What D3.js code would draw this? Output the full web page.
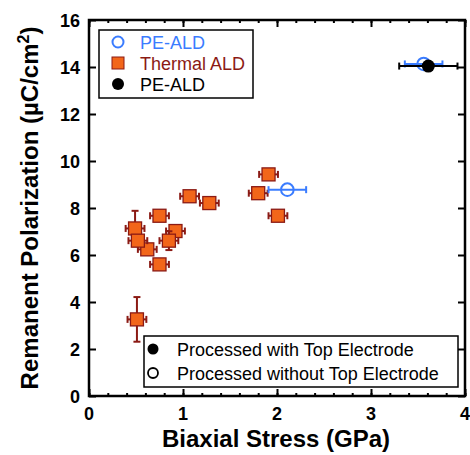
<!DOCTYPE html>
<html><head><meta charset="utf-8">
<script src="https://cdn.jsdelivr.net/npm/d3@7"></script>
<style>body{margin:0;background:#fff}svg{display:block}</style>
</head><body>
<script>
// ---- data ----
const thermalX    = [0.51, 0.62, 0.49, 0.52, 0.75, 0.75, 0.92, 0.85, 1.07, 1.28, 1.80, 1.91, 2.01];
const thermalY    = [3.26, 6.24, 7.13, 6.61, 5.60, 7.67, 7.02, 6.61, 8.50, 8.21, 8.63, 9.43, 7.67];
const thermalXErr = [0.10, 0.10, 0.10, 0.10, 0.10, 0.10, 0.10, 0.10, 0.10, 0.10, 0.10, 0.10, 0.10];
const thermalYErr = [0.95, 0, 0.75, 0, 0, 0, 0, 0.40, 0, 0, 0, 0, 0];
const peOpenX     = [2.11, 3.56];
const peOpenY     = [8.78, 14.13];
const peOpenXErr  = [0.20, 0.20];
const peFilledX   = [3.61];
const peFilledY   = [14.04];
const peFilledXErr= [0.31];
const xTicks = [0, 1, 2, 3, 4];
const yTicks = [0, 2, 4, 6, 8, 10, 12, 14, 16];
const legend1 = ["PE-ALD", "Thermal ALD", "PE-ALD"];
const legend2 = ["Processed with Top Electrode", "Processed without Top Electrode"];

const W = 470, H = 455;
const FONT = "'Liberation Sans', Arial, sans-serif";
const ORANGE = "#f2661a", DARKRED = "#8b1a14", BLUE = "#3a7cff";
const svg = d3.select("body").append("svg").attr("width", W).attr("height", H)
  .style("font-family", FONT);

const x = d3.scaleLinear().domain([0, 4]).range([89, 465]);
const y = d3.scaleLinear().domain([0, 16]).range([396, 20]);

// axes (inward ticks)
const minorX = d3.range(0, 4.001, 0.2);
svg.append("g").attr("transform", `translate(0,${y(0)})`)
  .call(d3.axisTop(x).tickValues(minorX).tickSize(3).tickFormat(""))
  .call(g => g.select(".domain").remove());
svg.append("g").attr("transform", `translate(0,${y(0)})`)
  .call(d3.axisTop(x).tickValues(xTicks).tickSize(7).tickFormat(""))
  .call(g => g.select(".domain").remove());
svg.append("g").attr("transform", `translate(0,${y(16)})`)
  .call(d3.axisBottom(x).tickValues(minorX).tickSize(3).tickFormat(""))
  .call(g => g.select(".domain").remove());
svg.append("g").attr("transform", `translate(0,${y(16)})`)
  .call(d3.axisBottom(x).tickValues(xTicks).tickSize(7).tickFormat(""))
  .call(g => g.select(".domain").remove());
svg.append("g").attr("transform", `translate(${x(0)},0)`)
  .call(d3.axisRight(y).tickValues(yTicks).tickSize(7).tickFormat(""))
  .call(g => g.select(".domain").remove());
svg.append("g").attr("transform", `translate(${x(4)},0)`)
  .call(d3.axisLeft(y).tickValues(yTicks).tickSize(7).tickFormat(""))
  .call(g => g.select(".domain").remove());
svg.selectAll(".tick line").attr("stroke", "#000").attr("stroke-width", 2);

// frame
svg.append("rect").attr("x", x(0)).attr("y", y(16))
  .attr("width", x(4) - x(0)).attr("height", y(0) - y(16))
  .attr("fill", "none").attr("stroke", "#000").attr("stroke-width", 2.5);

// tick labels
svg.selectAll(".xl").data(xTicks).enter().append("text")
  .attr("x", d => x(d)).attr("y", 420).attr("text-anchor", "middle")
  .attr("font-size", 18).attr("font-weight", "bold").text(d => d);
svg.selectAll(".yl").data(yTicks).enter().append("text")
  .attr("x", 80).attr("y", d => y(d) + 6.5).attr("text-anchor", "end")
  .attr("font-size", 18).attr("font-weight", "bold").text(d => d);

// axis titles
svg.append("text").attr("x", 276).attr("y", 447).attr("text-anchor", "middle")
  .attr("font-size", 24).attr("font-weight", "bold").text("Biaxial Stress (GPa)");
const yt = svg.append("text").attr("transform", "translate(38,208) rotate(-90)")
  .attr("text-anchor", "middle").attr("font-size", 24).attr("font-weight", "bold");
yt.append("tspan").text("Remanent Polarization (µC/cm");
yt.append("tspan").attr("font-size", 16).attr("dy", -9).text("2");
yt.append("tspan").attr("dy", 9).text(")");

// helpers
function xErr(g, cx, cy, e, color) {
  const x1 = x(cx - e), x2 = x(cx + e), py = y(cy);
  g.append("line").attr("x1", x1).attr("x2", x2).attr("y1", py).attr("y2", py)
    .attr("stroke", color).attr("stroke-width", 2);
  [x1, x2].forEach(px => g.append("line").attr("x1", px).attr("x2", px)
    .attr("y1", py - 3.5).attr("y2", py + 3.5).attr("stroke", color).attr("stroke-width", 2));
}
function yErr(g, cx, cy, e, color) {
  const y1 = y(cy - e), y2 = y(cy + e), px = x(cx);
  g.append("line").attr("x1", px).attr("x2", px).attr("y1", y1).attr("y2", y2)
    .attr("stroke", color).attr("stroke-width", 2);
  [y1, y2].forEach(py => g.append("line").attr("x1", px - 3.5).attr("x2", px + 3.5)
    .attr("y1", py).attr("y2", py).attr("stroke", color).attr("stroke-width", 2));
}

// thermal ALD squares
const gT = svg.append("g");
thermalX.forEach((vx, i) => {
  const g = gT.append("g");
  xErr(g, vx, thermalY[i], thermalXErr[i], DARKRED);
  if (thermalYErr[i] > 0) yErr(g, vx, thermalY[i], thermalYErr[i], DARKRED);
  const s = 13;
  g.append("rect").attr("x", x(vx) - s / 2).attr("y", y(thermalY[i]) - s / 2)
    .attr("width", s).attr("height", s).attr("fill", ORANGE)
    .attr("stroke", DARKRED).attr("stroke-width", 1.3);
});

// PE-ALD open (blue)
peOpenX.forEach((vx, i) => {
  const g = svg.append("g");
  xErr(g, vx, peOpenY[i], peOpenXErr[i], BLUE);
  g.append("circle").attr("cx", x(vx)).attr("cy", y(peOpenY[i])).attr("r", 6.3)
    .attr("fill", "none").attr("stroke", BLUE).attr("stroke-width", 2);
});
// PE-ALD filled (black)
peFilledX.forEach((vx, i) => {
  const g = svg.append("g");
  xErr(g, vx, peFilledY[i], peFilledXErr[i], "#000");
  g.append("circle").attr("cx", x(vx)).attr("cy", y(peFilledY[i])).attr("r", 6.5)
    .attr("fill", "#000");
});

// legend 1
const l1 = svg.append("g");
l1.append("rect").attr("x", 99).attr("y", 30).attr("width", 154).attr("height", 68)
  .attr("fill", "#fff").attr("stroke", "#000").attr("stroke-width", 1.5);
const l1y = [42, 63, 84];
const l1c = [BLUE, DARKRED, "#000"];
l1.append("circle").attr("cx", 118).attr("cy", l1y[0]).attr("r", 5.5)
  .attr("fill", "none").attr("stroke", BLUE).attr("stroke-width", 2);
l1.append("rect").attr("x", 112).attr("y", l1y[1] - 6).attr("width", 12).attr("height", 12)
  .attr("fill", ORANGE).attr("stroke", DARKRED).attr("stroke-width", 1);
l1.append("circle").attr("cx", 118).attr("cy", l1y[2]).attr("r", 6).attr("fill", "#000");
legend1.forEach((t, i) => l1.append("text").attr("x", 140).attr("y", l1y[i] + 6.5)
  .attr("font-size", 18).attr("fill", l1c[i]).text(t));

// legend 2
const l2 = svg.append("g");
l2.append("rect").attr("x", 144).attr("y", 336).attr("width", 314).attr("height", 51)
  .attr("fill", "#fff").attr("stroke", "#000").attr("stroke-width", 1.5);
const l2y = [349, 373];
l2.append("circle").attr("cx", 153).attr("cy", l2y[0]).attr("r", 5.5).attr("fill", "#000");
l2.append("circle").attr("cx", 153).attr("cy", l2y[1]).attr("r", 5)
  .attr("fill", "none").attr("stroke", "#000").attr("stroke-width", 1.8);
legend2.forEach((t, i) => l2.append("text").attr("x", 177).attr("y", l2y[i] + 6.5)
  .attr("font-size", 18).attr("fill", "#000").text(t));
</script>
</body></html>
